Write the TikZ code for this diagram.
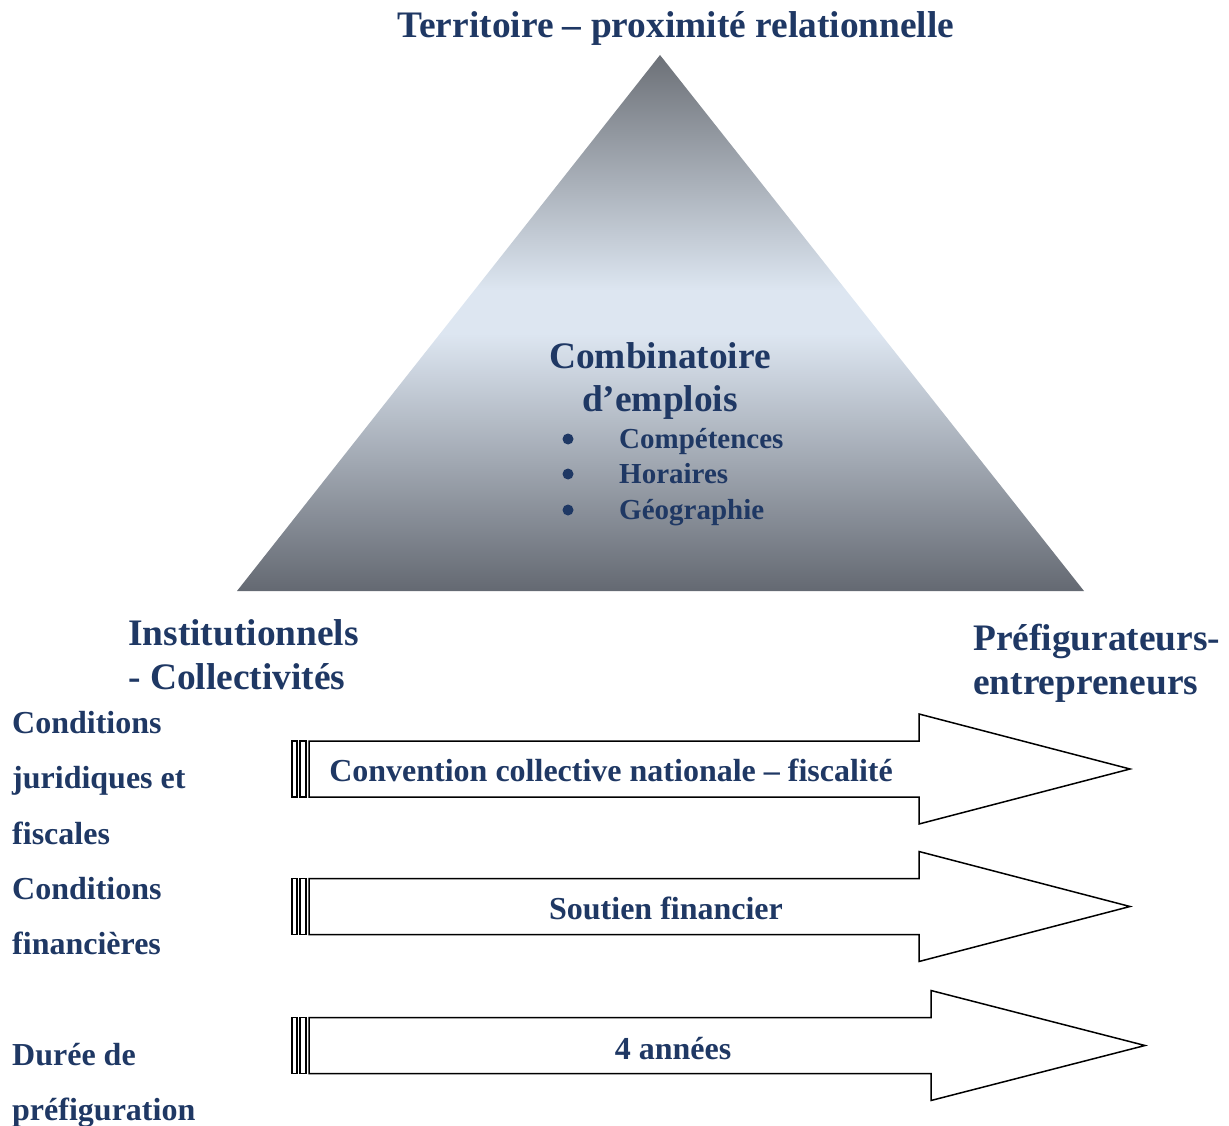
\documentclass[tikz,border=0pt]{standalone}
\usepackage{fontspec}
\setmainfont{Liberation Serif}
\usepackage{tikz}
\usepackage{xcolor}
\definecolor{navy}{RGB}{31,56,100}
\definecolor{pyrdark}{RGB}{108,112,119}
\definecolor{pyrlight}{RGB}{221,230,241}
\definecolor{pyrbottom}{RGB}{100,105,114}
\pgfdeclareverticalshading{pyramid}{100bp}{color(0bp)=(pyrbottom); color(25bp)=(pyrbottom);
    color(49bp)=(pyrlight); color(53bp)=(pyrlight); color(75bp)=(pyrdark); color(100bp)=(pyrdark)}
\tikzset{
    big-text/.style = {text=navy, font=\fontsize{37.4}{43}\selectfont\bfseries, inner sep=0pt},
    side-text/.style = {text=navy, font=\fontsize{32}{38}\selectfont\bfseries, inner sep=0pt, anchor=base west},
    item-text/.style = {text=navy, font=\fontsize{29}{34}\selectfont\bfseries, inner sep=0pt, anchor=base west},
    arrow-line/.style = {draw=black, line width=1.5pt, fill=white, line join=miter},
}

\begin{document}
\begin{tikzpicture}[x=1pt, y=-1pt]
\useasboundingbox (0,0) rectangle (1229,1126);

% pyramid
\shade[shading=pyramid] (237,591) -- (660,55) -- (1084,591) -- cycle;
\node[big-text, anchor=base] (title) at (676,38) {Territoire -- proximité relationnelle};
\node[big-text, anchor=base] (comb) at (660,368) {Combinatoire};
\node[big-text, anchor=base] (emplois) at (660,411) {d’emplois};
\foreach \txt/\yy/\nm in {Compétences/448/comp, Horaires/483/hor, Géographie/519/geo} {
    \fill[navy] (568,\yy-9) circle (5.5) coordinate (\nm-dot);
    \node[item-text] (\nm) at (619,\yy) {\txt};
}

% actors
\node[big-text, anchor=base west] (inst) at (128,645) {Institutionnels};
\node[big-text, anchor=base west] (coll) at (128,689) {- Collectivités};
\node[big-text, anchor=base west] (pref) at (973,650) {Préfigurateurs-};
\node[big-text, anchor=base west] (entr) at (973,694) {entrepreneurs};

% conditions
\node[side-text] (cond1) at (12,733) {Conditions};
\node[side-text] (jur) at (12,788) {juridiques et};
\node[side-text] (fisc) at (12,844) {fiscales};
\node[side-text] (cond2) at (12,899) {Conditions};
\node[side-text] (fin) at (12,954) {financières};
\node[side-text] (duree) at (12,1065) {Durée de};
\node[side-text] (pref2) at (12,1120) {préfiguration};

% arrows
\foreach \y/\hx/\tx in {769/919/1130, 906.5/919/1130, 1045.5/931/1145} {
    \draw[arrow-line] (309,\y-28) -- (\hx,\y-28) -- (\hx,\y-55) -- (\tx,\y)
        -- (\hx,\y+55) -- (\hx,\y+28) -- (309,\y+28) -- cycle;
    \draw[arrow-line] (292,\y-28) rectangle (297,\y+28);
    \draw[arrow-line] (300,\y-28) rectangle (306,\y+28);
}
\node[side-text, anchor=base] (conv) at (611,781) {Convention collective nationale -- fiscalité};
\node[side-text, anchor=base] (sout) at (666,919) {Soutien financier};
\node[side-text, anchor=base] (ans) at (673,1059) {4 années};
\end{tikzpicture}
\end{document}
